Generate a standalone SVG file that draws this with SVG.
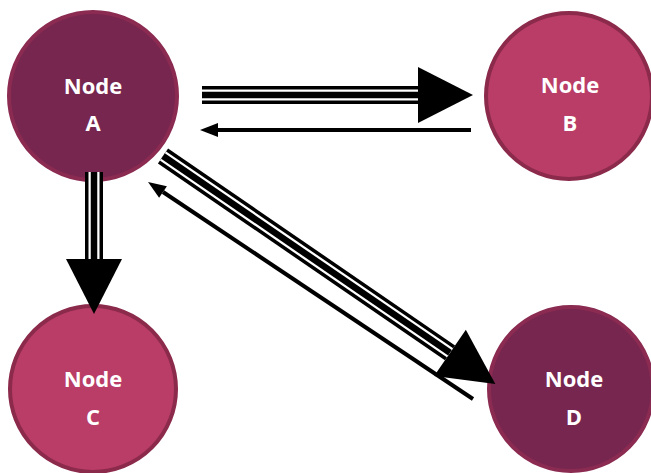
<svg xmlns="http://www.w3.org/2000/svg" width="651" height="473" viewBox="0 0 651 473">
<style>
.dark{fill:#77264f;stroke:#8b2b51;stroke-width:4}
.light{fill:#b93d66;stroke:#8c2a4c;stroke-width:4}
.lbl{font-family:"Open Sans","Liberation Sans",sans-serif;font-weight:700;font-size:22px;fill:#ffffff;text-anchor:middle}
.t1{stroke:#000;stroke-width:18;fill:none}
.t2{stroke:#fff;stroke-width:11;fill:none}
.t3{stroke:#000;stroke-width:6.5;fill:none}
.thin{stroke:#000;stroke-width:4;fill:none}
</style>
<defs>
<marker id="big" markerUnits="userSpaceOnUse" markerWidth="60" markerHeight="60" refX="0" refY="0" orient="auto" overflow="visible">
<path d="M0,-28 L55,0 L0,28 z" fill="#000"/>
</marker>
<marker id="small" markerUnits="userSpaceOnUse" markerWidth="20" markerHeight="20" refX="0" refY="0" orient="auto" overflow="visible">
<path d="M0,-7 L18,0 L0,7 z" fill="#000"/>
</marker>
</defs>
<g id="nodeA"><circle class="dark" cx="93" cy="96" r="84"/><text class="lbl" x="93" y="94">Node</text><text class="lbl" x="93" y="131">A</text></g>
<g id="nodeB"><circle class="light" cx="569" cy="96" r="83"/><text class="lbl" x="570" y="93">Node</text><text class="lbl" x="570" y="131">B</text></g>
<g id="nodeC"><circle class="light" cx="93" cy="389" r="83"/><text class="lbl" x="93" y="387">Node</text><text class="lbl" x="93" y="425">C</text></g>
<g id="nodeD"><circle class="dark" cx="571" cy="389" r="82"/><text class="lbl" x="574" y="387">Node</text><text class="lbl" x="574" y="425">D</text></g>
<g id="connectors">
<path class="t1" d="M202,95 L418,95" marker-end="url(#big)"/>
<path class="t2" d="M202,95 L418,95"/>
<path class="t3" d="M202,95 L418,95"/>
<path class="thin" d="M471,130 L218,130" marker-end="url(#small)"/>
<path class="t1" d="M94,172 L94,259" marker-end="url(#big)"/>
<path class="t2" d="M94,172 L94,259"/>
<path class="t3" d="M94,172 L94,259"/>
<path class="t1" d="M163,156 L450,352.8" marker-end="url(#big)"/>
<path class="t2" d="M163,156 L450,352.8"/>
<path class="t3" d="M163,156 L450,352.8"/>
<path class="thin" d="M473,399 L163,192" marker-end="url(#small)"/>
</g>
</svg>
